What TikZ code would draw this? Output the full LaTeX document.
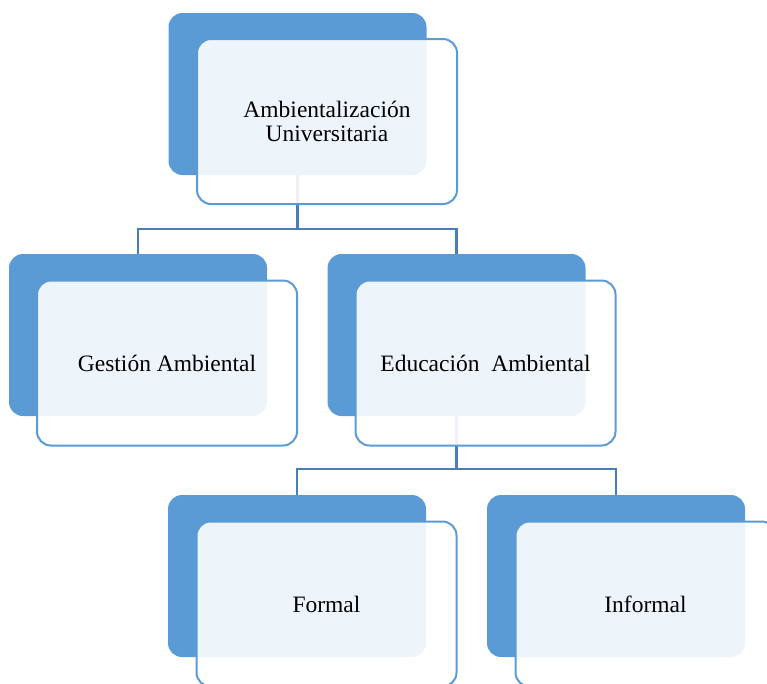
\documentclass[tikz,border=0pt]{standalone}
\usepackage{fontspec}
\setmainfont{Liberation Serif}
\definecolor{backblue}{HTML}{5B9BD5}
\definecolor{connblue}{HTML}{4A7EBB}
\begin{document}
\begin{tikzpicture}[x=1pt,y=-1pt,
  backbox/.style={rectangle, rounded corners=14pt, fill=backblue, draw=none,
    minimum width=258pt, minimum height=162pt, inner sep=0pt},
  frontbox/.style={rectangle, rounded corners=14pt, draw=backblue, line width=2pt,
    fill=white, fill opacity=0.9, text opacity=1, text=black,
    minimum width=260pt, minimum height=165pt, inner sep=0pt, align=center,
    font=\fontsize{23.5}{24}\selectfont},
  conn/.style={draw=connblue, line width=2.5pt}]
\useasboundingbox (0,0) rectangle (767,683);
\clip (0,0) rectangle (767,683);
% back boxes
\node[backbox] (topB) at (297.5,94) {};
\node[backbox] (gesB) at (138,335) {};
\node[backbox] (eduB) at (456.5,335) {};
\node[backbox] (forB) at (297,576) {};
\node[backbox] (infB) at (616,576) {};
% connectors
\coordinate (j1) at (297.5,229);
\coordinate (j2) at (456.5,469);
\draw[conn] (topB.south) -- (j1) -| (gesB.north);
\draw[conn] (j1) -| (eduB.north);
\draw[conn] (eduB.south) -- (j2) -| (forB.north);
\draw[conn] (j2) -| (infB.north);
% front boxes
\node[frontbox] (topF) at (327,121.5) {Ambientalización\\Universitaria};
\node[frontbox] (gesF) at (167,363) {Gestión Ambiental};
\node[frontbox] (eduF) at (485.5,363) {Educación\ \ Ambiental};
\node[frontbox] (forF) at (326.5,604) {Formal};
\node[frontbox] (infF) at (645.5,604) {Informal};
\end{tikzpicture}
\end{document}
